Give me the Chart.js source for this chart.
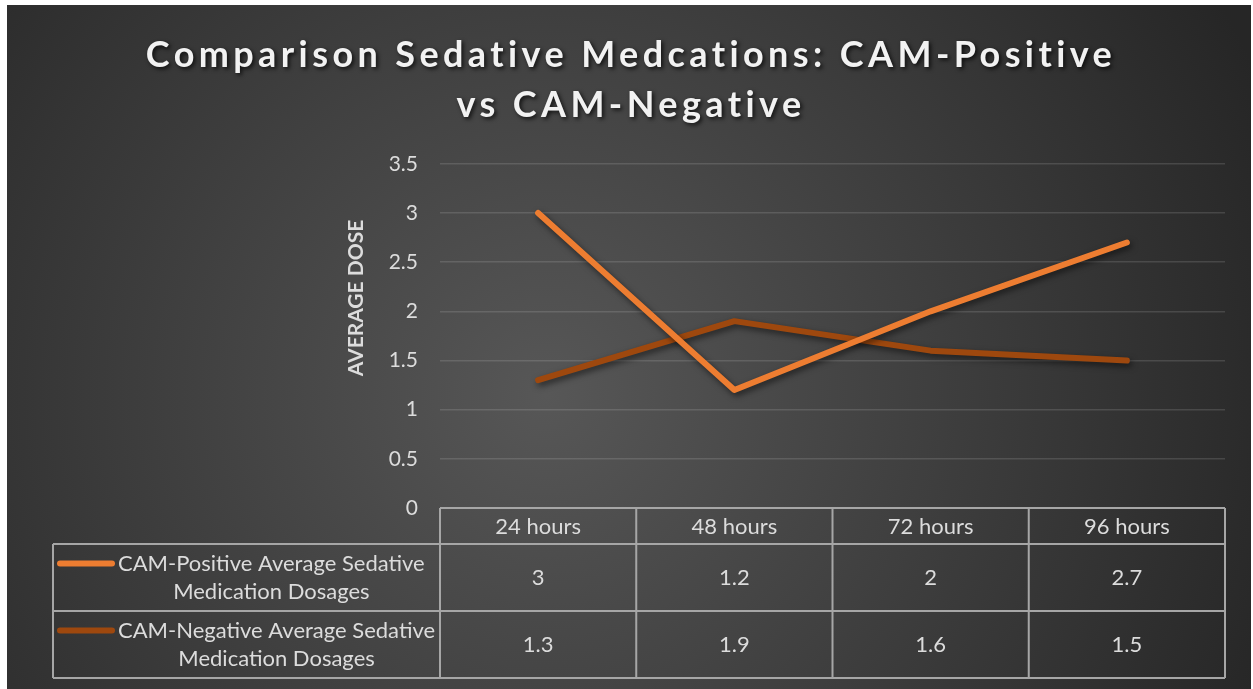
<!DOCTYPE html>
<html lang="en">
<head>
    <meta charset="UTF-8">
    <title>Comparison Sedative Medcations</title>
    <script src="https://cdn.jsdelivr.net/npm/chart.js"></script>
    <style>
        body {
            margin: 0;
            padding: 0;
            background-color: #fff;
        }

        .chart-container {
            position: absolute;
            left: 7px;
            top: 5px;
            width: 1244px;
            height: 684px;
        }
    </style>
</head>
<body>
    <div class="chart-container">
        <canvas id="doseChart"></canvas>
    </div>

    <script>
        // data
        const categories = ['24 hours', '48 hours', '72 hours', '96 hours'];
        const positiveDoses = [3, 1.2, 2, 2.7];
        const negativeDoses = [1.3, 1.9, 1.6, 1.5];
        const seriesLabels = [
            ['CAM-Positive Average Sedative', 'Medication Dosages'],
            ['CAM-Negative Average Sedative', 'Medication Dosages']
        ];
        const yTickMin = 0;
        const yTickMax = 3.5;
        const yTickStep = 0.5;
        const yAxisTitle = 'AVERAGE DOSE';

        const textColor = '#dcdcdc';
        const borderColor = '#a6a6a6';
        const fontFamily = 'Lato, sans-serif';

        // dark radial background
        const backgroundPlugin = {
            id: 'background',
            beforeDraw(chart) {
                const { ctx, width, height } = chart;
                const g = ctx.createRadialGradient(540, 390, 0, 540, 390, 780);
                g.addColorStop(0, '#575757');
                g.addColorStop(1, '#262626');
                ctx.save();
                ctx.fillStyle = g;
                ctx.fillRect(0, 0, width, height);
                ctx.restore();
            }
        };

        // drop shadow on title and lines, spaced title letters
        const shadowPlugin = {
            id: 'shadows',
            afterInit(chart) {
                const tb = chart.titleBlock;
                if (!tb) return;
                const draw = tb.draw.bind(tb);
                tb.draw = function () {
                    const ctx = chart.ctx;
                    ctx.save();
                    // title box stops at the right padding; centre it on the whole canvas
                    ctx.translate(15, 0);
                    ctx.letterSpacing = '4.4px';
                    ctx.shadowColor = 'rgba(0,0,0,0.75)';
                    ctx.shadowBlur = 4;
                    ctx.shadowOffsetX = 2;
                    ctx.shadowOffsetY = 2;
                    draw();
                    ctx.restore();
                };
            },
            beforeDatasetsDraw(chart) {
                const ctx = chart.ctx;
                ctx.save();
                ctx.shadowColor = 'rgba(0,0,0,0.55)';
                ctx.shadowBlur = 6;
                ctx.shadowOffsetX = 2;
                ctx.shadowOffsetY = 3;
            },
            afterDatasetsDraw(chart) {
                chart.ctx.restore();
            }
        };

        // rotated value axis title, centred a bit above the plot middle
        const axisTitlePlugin = {
            id: 'axisTitle',
            afterDraw(chart) {
                const ctx = chart.ctx;
                ctx.save();
                ctx.translate(349, 293);
                ctx.rotate(-Math.PI / 2);
                ctx.fillStyle = textColor;
                ctx.font = 'bold 21px ' + fontFamily;
                ctx.textAlign = 'center';
                ctx.textBaseline = 'middle';
                ctx.fillText(yAxisTitle, 0, 0);
                ctx.restore();
            }
        };

        // data table under the plot, with legend keys
        const dataTablePlugin = {
            id: 'dataTable',
            afterDraw(chart) {
                const { ctx, chartArea } = chart;
                const x = chart.scales.x;
                const n = categories.length;
                const colW = (chartArea.right - chartArea.left) / n;
                const top = chartArea.bottom;
                const headerH = 36;
                const rowH = 67;
                const tableLeft = 46;
                const rowsTop = top + headerH;
                const bottom = rowsTop + rowH * chart.data.datasets.length;

                ctx.save();
                ctx.strokeStyle = borderColor;
                ctx.lineWidth = 2;

                ctx.beginPath();
                ctx.moveTo(chartArea.left, top);
                ctx.lineTo(chartArea.right, top);
                for (let i = 0; i <= n; i++) {
                    const bx = chartArea.left + i * colW;
                    ctx.moveTo(bx, top);
                    ctx.lineTo(bx, bottom);
                }
                for (let r = 0; r <= chart.data.datasets.length; r++) {
                    const by = rowsTop + r * rowH;
                    ctx.moveTo(tableLeft, by);
                    ctx.lineTo(chartArea.right, by);
                }
                ctx.moveTo(tableLeft, rowsTop);
                ctx.lineTo(tableLeft, bottom);
                ctx.stroke();

                ctx.fillStyle = textColor;
                ctx.font = '22px ' + fontFamily;
                ctx.textAlign = 'center';
                ctx.textBaseline = 'middle';
                categories.forEach((c, i) => {
                    ctx.fillText(c, x.getPixelForValue(i), top + headerH / 2 + 1);
                });

                chart.data.datasets.forEach((ds, r) => {
                    const cy = rowsTop + r * rowH + rowH / 2;
                    ds.data.forEach((v, i) => {
                        ctx.fillText(String(v), x.getPixelForValue(i), cy);
                    });
                    // legend key
                    const line1 = cy - 14;
                    ctx.save();
                    ctx.strokeStyle = ds.borderColor;
                    ctx.lineWidth = 6;
                    ctx.lineCap = 'round';
                    ctx.beginPath();
                    ctx.moveTo(tableLeft + 7, line1);
                    ctx.lineTo(tableLeft + 59, line1);
                    ctx.stroke();
                    ctx.restore();
                    // label block starts after the key, lines centred in it
                    const blockW = Math.max(...seriesLabels[r].map(t => ctx.measureText(t).width));
                    const blockX = tableLeft + 65 + blockW / 2;
                    seriesLabels[r].forEach((t, k) => {
                        ctx.fillText(t, blockX, line1 + k * 28);
                    });
                });
                ctx.restore();
            }
        };

        const ctx = document.getElementById('doseChart').getContext('2d');
        const doseChart = new Chart(ctx, {
            type: 'line',
            data: {
                labels: categories,
                datasets: [{
                    label: seriesLabels[0].join(' '),
                    data: positiveDoses,
                    borderColor: '#ed7d31',
                    backgroundColor: '#ed7d31',
                    borderWidth: 6,
                    borderCapStyle: 'round',
                    borderJoinStyle: 'round',
                    pointRadius: 0,
                    tension: 0
                }, {
                    label: seriesLabels[1].join(' '),
                    data: negativeDoses,
                    borderColor: '#9e480e',
                    backgroundColor: '#9e480e',
                    borderWidth: 6,
                    borderCapStyle: 'round',
                    borderJoinStyle: 'round',
                    pointRadius: 0,
                    tension: 0
                }]
            },
            options: {
                responsive: true,
                maintainAspectRatio: false,
                animation: false,
                layout: {
                    padding: { left: 0, right: 26, top: 0, bottom: 181 }
                },
                plugins: {
                    legend: { display: false },
                    tooltip: { enabled: false },
                    title: {
                        display: true,
                        text: ['Comparison Sedative Medcations: CAM-Positive', 'vs CAM-Negative'],
                        color: '#f2f2f2',
                        font: { family: fontFamily, size: 36, weight: 'bold', lineHeight: 1.4 },
                        padding: { top: 25, bottom: 33 }
                    }
                },
                scales: {
                    x: {
                        display: false,
                        offset: true
                    },
                    y: {
                        min: yTickMin,
                        max: yTickMax,
                        afterFit(scale) {
                            scale.width = 433;
                        },
                        ticks: {
                            stepSize: yTickStep,
                            color: textColor,
                            font: { family: fontFamily, size: 21 },
                            padding: 22,
                            callback: (value) => String(value)
                        },
                        grid: {
                            color: 'rgba(255,255,255,0.13)',
                            lineWidth: 1.5,
                            drawTicks: false
                        },
                        border: { display: false }
                    }
                }
            },
            plugins: [backgroundPlugin, shadowPlugin, axisTitlePlugin, dataTablePlugin]
        });
    </script>
</body>
</html>
